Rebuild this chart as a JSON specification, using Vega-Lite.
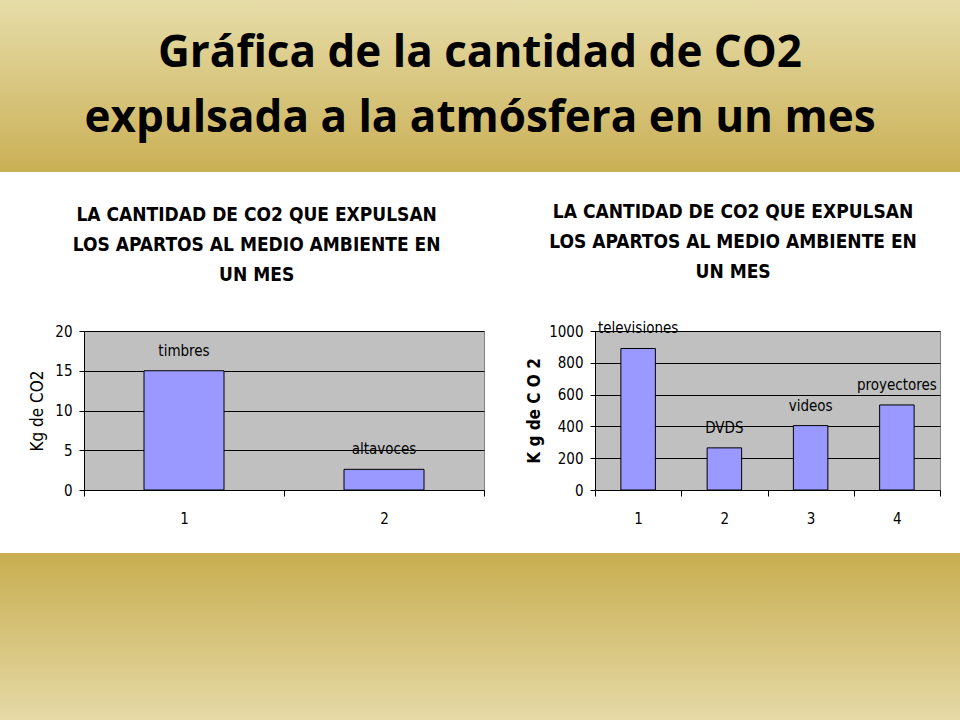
{
  "$schema": "https://vega.github.io/schema/vega-lite/v6.json",
  "background": "white",
  "padding": 0,
  "spacing": 0,
  "config": {
    "view": {"stroke": null},
    "font": "Liberation Sans Narrow, DejaVu Sans Condensed, Arial Narrow, sans-serif",
    "axis": {
      "domainColor": "black",
      "tickColor": "black",
      "gridColor": "black",
      "gridOpacity": 1,
      "labelColor": "black",
      "titleColor": "black",
      "labelFont": "Liberation Sans Narrow, DejaVu Sans Condensed, sans-serif",
      "titleFont": "Liberation Sans Narrow, DejaVu Sans Condensed, sans-serif",
      "labelFontSize": 15,
      "titleFontSize": 17,
      "titleFontWeight": "normal",
      "tickSize": 5,
      "labelPadding": 7
    },
    "axisX": {"labelAngle": 0, "grid": false, "tickBand": "extent", "labelPadding": 15, "tickSize": 6},
    "title": {
      "font": "Liberation Sans Narrow, DejaVu Sans Condensed, sans-serif",
      "fontSize": 19,
      "fontWeight": "bold",
      "lineHeight": 30,
      "color": "black",
      "anchor": "middle",
      "frame": "bounds"
    }
  },
  "vconcat": [
    {
      "width": 960,
      "height": 172,
      "data": {"values": [{"titulo": "Gráfica de la cantidad de CO2\nexpulsada a la atmósfera en un mes"}]},
      "layer": [
        {
          "mark": {
            "type": "rect",
            "fill": {
              "gradient": "linear", "x1": 0, "y1": 0, "x2": 0, "y2": 1,
              "stops": [{"offset": 0, "color": "#E7DDA9"}, {"offset": 1, "color": "#CAB056"}]
            }
          },
          "encoding": {}
        },
        {
          "mark": {"type": "text", "font": "Open Sans", "fontWeight": "bold", "fontSize": 44, "lineHeight": 65, "lineBreak": "\n", "color": "black", "dy": -32},
          "encoding": {"text": {"field": "titulo"}}
        }
      ]
    },
    {
      "spacing": 11,
      "hconcat": [
        {
          "width": 17, "height": 222,
          "mark": {"type": "rect", "fill": "white"},
          "encoding": {}
        },
        {
          "width": 400,
          "height": 159,
          "view": {"fill": "#C0C0C0", "stroke": "#808080"},
          "title": {"text": ["", "LA CANTIDAD DE CO2 QUE EXPULSAN", "LOS APARTOS AL MEDIO AMBIENTE EN", "UN MES"], "offset": 39},
          "data": {"values": [
            {"n": "1", "aparato": "timbres", "kg": 15},
            {"n": "2", "aparato": "altavoces", "kg": 2.6}
          ]},
          "encoding": {
            "x": {"field": "n", "type": "ordinal", "scale": {"paddingInner": 0, "paddingOuter": 0}, "axis": {"title": null}},
            "y": {"field": "kg", "type": "quantitative", "scale": {"domain": [0, 20], "nice": false},
                  "axis": {"title": "Kg de CO2", "values": [0, 5, 10, 15, 20], "titlePadding": 8}}
          },
          "layer": [
            {"mark": {"type": "bar", "fill": "#9999FF", "stroke": "black", "strokeWidth": 1, "width": {"band": 0.4}}},
            {"mark": {"type": "text", "dy": -20, "fontSize": 15, "color": "black"}, "encoding": {"text": {"field": "aparato"}}}
          ]
        },
        {
          "width": 18, "height": 222,
          "mark": {"type": "rect", "fill": "white"},
          "encoding": {}
        },
        {
          "width": 345,
          "height": 159,
          "view": {"fill": "#C0C0C0", "stroke": "#808080"},
          "title": {"text": ["", "LA CANTIDAD DE CO2 QUE EXPULSAN", "LOS APARTOS AL MEDIO AMBIENTE EN", "UN MES"], "offset": 39},
          "data": {"values": [
            {"n": "1", "aparato": "televisiones", "kg": 890},
            {"n": "2", "aparato": "DVDS", "kg": 265},
            {"n": "3", "aparato": "videos", "kg": 405},
            {"n": "4", "aparato": "proyectores", "kg": 535}
          ]},
          "encoding": {
            "x": {"field": "n", "type": "ordinal", "scale": {"paddingInner": 0, "paddingOuter": 0}, "axis": {"title": null}},
            "y": {"field": "kg", "type": "quantitative", "scale": {"domain": [0, 1000], "nice": false},
                  "axis": {"title": "K g de C O 2", "titleFontWeight": "bold", "format": "d", "values": [0, 200, 400, 600, 800, 1000], "titlePadding": 5}}
          },
          "layer": [
            {"mark": {"type": "bar", "fill": "#9999FF", "stroke": "black", "strokeWidth": 1, "width": {"band": 0.4}}},
            {"mark": {"type": "text", "dy": -20, "fontSize": 15, "color": "black"}, "encoding": {"text": {"field": "aparato"}}}
          ]
        }
      ]
    },
    {
      "width": 960,
      "height": 167,
      "data": {"values": [{"tira": 1}]},
      "mark": {
        "type": "rect",
        "fill": {
          "gradient": "linear", "x1": 0, "y1": 0, "x2": 0, "y2": 1,
          "stops": [{"offset": 0, "color": "#C8AE51"}, {"offset": 1, "color": "#E5D9A6"}]
        }
      },
      "encoding": {}
    }
  ]
}
